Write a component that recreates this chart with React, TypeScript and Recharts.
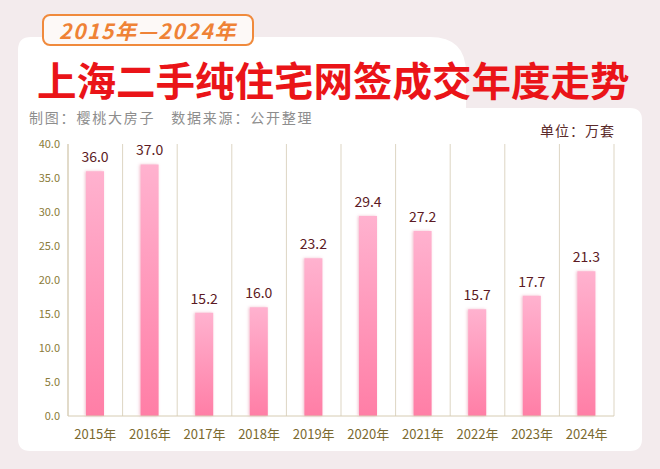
import React from "react"
import { Bar, BarChart, CartesianGrid, LabelList, XAxis, YAxis } from "recharts"

const years = ["2015年", "2016年", "2017年", "2018年", "2019年", "2020年", "2021年", "2022年", "2023年", "2024年"]
const volumes = [36.0, 37.0, 15.2, 16.0, 23.2, 29.4, 27.2, 15.7, 17.7, 21.3]
const yTicks = [0, 5, 10, 15, 20, 25, 30, 35, 40]

const data = years.map((year, i) => ({ year, value: volumes[i] }))

const font = '"Noto Sans CJK SC", "Noto Sans", sans-serif'

export default function App() {
  const n = years.length
  return (
    <div style={{ position: "absolute", left: 0, top: 0, width: 660, height: 469, background: "#f3ebed", overflow: "hidden", fontFamily: font }}>
      {/* card background */}
      <svg width={660} height={469} style={{ position: "absolute", left: 0, top: 0 }}>
        <path d="M18 50 Q18 37 31 37 L430 37 Q466 37 466 73 L466 108 L630 108 Q642 108 642 120 L642 439 Q642 451 630 451 L30 451 Q18 451 18 439 Z" fill="#ffffff" />
      </svg>

      <div style={{ position: "absolute", left: 42, top: 14, width: 208, height: 28, border: "2px solid #f08a3c", borderRadius: 8, background: "#fdf9f7", color: "#ef8236", fontSize: 21, fontWeight: 700, fontStyle: "italic", lineHeight: "28px", textAlign: "center", letterSpacing: 1.6 }}>
        2015年—2024年
      </div>

      <div style={{ position: "absolute", left: 37, top: 54, color: "#ea1418", fontSize: 39.5, fontWeight: 700, lineHeight: "50px", whiteSpace: "nowrap" }}>
        上海二手纯住宅网签成交年度走势
      </div>

      <div style={{ position: "absolute", left: 29, top: 107, color: "#8d8d8d", fontSize: 14, letterSpacing: 1.8, lineHeight: "20px", whiteSpace: "nowrap" }}>
        制图：樱桃大房子　数据来源：公开整理
      </div>

      <div style={{ position: "absolute", left: 540, top: 120, color: "#5a2a2a", fontSize: 14, letterSpacing: 1, lineHeight: "20px", whiteSpace: "nowrap" }}>
        单位：万套
      </div>

      <div style={{ position: "absolute", left: 0, top: 0 }}>
        <BarChart width={660} height={469} data={data} margin={{ top: 144, right: 46, bottom: 23, left: 28 }}>
          <defs>
            <linearGradient id="barFill" x1="0" y1="0" x2="0" y2="1">
              <stop offset="0%" stopColor="#ffb2cf" />
              <stop offset="100%" stopColor="#ff7ea6" />
            </linearGradient>
            <filter id="barShadow" x="-50%" y="-10%" width="200%" height="120%">
              <feDropShadow dx={-1} dy={0} stdDeviation={1.6} floodColor="#e07090" floodOpacity={0.45} />
            </filter>
          </defs>
          <CartesianGrid
            horizontal={false}
            stroke="#ddd5c3"
            verticalCoordinatesGenerator={({ offset }: any) =>
              Array.from({ length: n + 1 }, (_, i) => offset.left + (i * offset.width) / n)
            }
          />
          <XAxis
            dataKey="year"
            height={30}
            axisLine={{ stroke: "#d6ccb3" }}
            tickLine={false}
            tickMargin={8}
            interval={0}
            tick={{ fontSize: 13, fill: "#7b6a30", fontFamily: font }}
          />
          <YAxis
            width={40}
            domain={[0, 40]}
            ticks={yTicks}
            axisLine={{ stroke: "#d6ccb3" }}
            tickLine={false}
            tick={{ fontSize: 11, fill: "#8b7b3a", fontFamily: font }}
            tickFormatter={(v: number) => v.toFixed(1)}
          />
          <Bar dataKey="value" barSize={18} fill="url(#barFill)" filter="url(#barShadow)" isAnimationActive={false}>
            <LabelList
              dataKey="value"
              position="top"
              offset={9}
              formatter={(v: any) => Number(v).toFixed(1)}
              style={{ fontSize: 14, fill: "#5c1a24", fontFamily: font }}
            />
          </Bar>
        </BarChart>
      </div>
    </div>
  )
}
